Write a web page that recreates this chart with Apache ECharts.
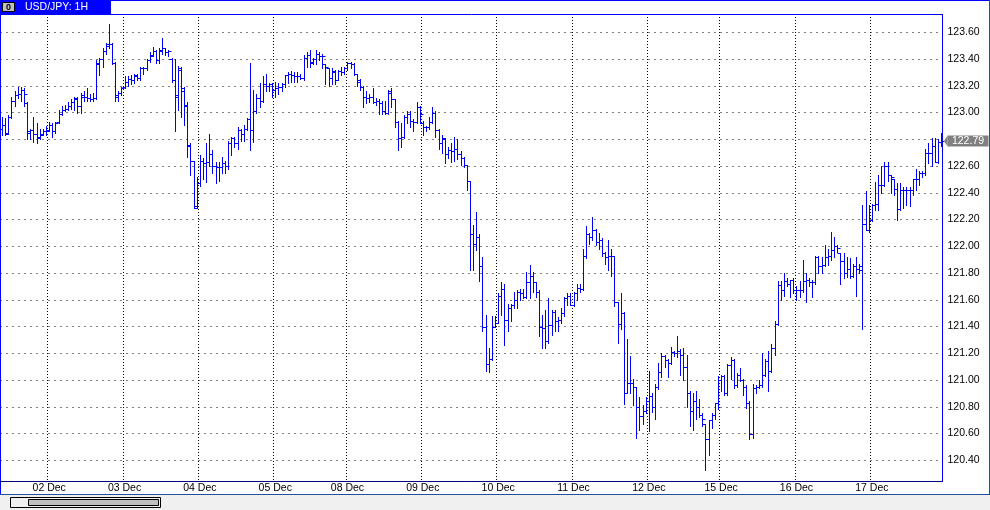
<!DOCTYPE html>
<html><head><meta charset="utf-8">
<script src="https://cdn.jsdelivr.net/npm/echarts/dist/echarts.min.js"></script>
<style>html,body{margin:0;padding:0;background:#fff;}#c{width:990px;height:510px;}</style>
</head><body><div id="c"></div>
<script>
// ---- data ----
const title = 'USD/JPY: 1H';
const dayLabels = ['01 Dec','02 Dec','03 Dec','04 Dec','05 Dec','08 Dec','09 Dec','10 Dec','11 Dec','12 Dec','15 Dec','16 Dec','17 Dec'];
const dayBarCounts = [15,24,24,24,23,24,24,24,24,23,24,24,23];
const firstHour = 9;
const opens = [
/*01*/122.88,122.91,122.85,122.97,123.09,123.13,123.14,123.17,123.07,122.86,122.87,122.84,122.81,122.84,122.86,
/*02*/122.87,122.91,122.86,122.93,122.99,123.02,123.03,123.05,123.08,123.10,123.05,123.12,123.12,123.11,123.10,123.11,123.36,123.40,123.46,123.50,123.51,123.37,123.13,123.15,
/*03*/123.19,123.23,123.25,123.24,123.27,123.26,123.33,123.33,123.39,123.42,123.46,123.39,123.46,123.48,123.45,123.40,123.24,123.13,123.32,123.18,123.06,122.76,122.64,122.30,
/*04*/122.47,122.64,122.62,122.63,122.69,122.60,122.59,122.59,122.62,122.60,122.77,122.81,122.77,122.87,122.84,122.88,122.95,122.87,123.01,123.11,123.09,123.21,123.20,123.21,
/*05*/123.17,123.18,123.19,123.21,123.28,123.29,123.28,123.27,123.27,123.26,123.41,123.43,123.38,123.40,123.44,123.42,123.36,123.33,123.26,123.30,123.24,123.31,123.30,
/*08*/123.33,123.37,123.36,123.29,123.23,123.19,123.12,123.11,123.12,123.08,123.09,123.07,123.01,123.00,123.15,123.10,122.93,122.81,122.82,122.97,122.99,122.94,122.93,123.04,
/*09*/122.92,122.89,122.89,122.93,123.00,122.87,122.77,122.80,122.69,122.72,122.71,122.73,122.69,122.66,122.61,122.49,122.09,122.02,122.07,121.85,121.40,121.12,121.16,121.40,
/*10*/121.43,121.63,121.68,121.45,121.54,121.56,121.60,121.66,121.65,121.62,121.73,121.78,121.73,121.66,121.40,121.39,121.29,121.41,121.51,121.44,121.45,121.50,121.61,121.63,
/*11*/121.56,121.65,121.69,121.68,121.93,122.09,122.07,122.12,122.03,122.05,121.95,121.92,121.93,121.93,121.58,121.42,121.50,120.90,120.98,120.98,120.95,120.80,120.73,120.77,
/*12*/120.84,120.88,120.80,120.95,121.06,121.18,121.15,121.13,121.21,121.20,121.22,121.19,121.10,120.90,120.77,120.84,120.80,120.74,120.67,120.56,120.70,120.74,120.83,
/*15*/121.00,121.03,120.90,121.11,121.15,120.96,121.04,121.00,120.95,120.83,120.60,120.94,120.95,120.96,121.04,121.14,121.07,121.24,121.42,121.71,121.67,121.74,121.72,121.75,
/*16*/121.67,121.67,121.67,121.74,121.75,121.73,121.73,121.92,121.85,121.86,121.92,121.93,121.97,122.00,121.95,121.89,121.80,121.83,121.78,121.85,121.83,121.82,122.17,122.12,
/*17*/122.20,122.31,122.32,122.46,122.46,122.60,122.53,122.50,122.43,122.28,122.42,122.42,122.42,122.42,122.50,122.50,122.55,122.55,122.70,122.70,122.75,122.63,122.78
];
const highs = [
/*01*/122.97,122.96,122.98,123.12,123.16,123.19,123.19,123.18,123.08,122.88,122.97,122.92,122.88,122.88,122.90,
/*02*/122.93,122.92,122.93,123.02,123.05,123.06,123.08,123.10,123.12,123.12,123.15,123.16,123.18,123.14,123.15,123.39,123.41,123.48,123.52,123.66,123.52,123.38,123.16,123.19,
/*03*/123.27,123.27,123.28,123.29,123.29,123.34,123.34,123.40,123.45,123.49,123.47,123.48,123.56,123.48,123.47,123.41,123.40,123.35,123.34,123.19,123.08,122.77,122.64,122.52,
/*04*/122.68,122.66,122.77,122.84,122.72,122.63,122.63,122.67,122.64,122.79,122.82,122.82,122.89,122.88,122.91,122.96,123.37,123.17,123.14,123.22,123.27,123.29,123.22,123.22,
/*05*/123.23,123.22,123.22,123.28,123.30,123.31,123.30,123.30,123.29,123.43,123.45,123.47,123.41,123.47,123.45,123.44,123.36,123.33,123.33,123.32,123.32,123.34,123.34,
/*08*/123.38,123.38,123.37,123.29,123.25,123.20,123.16,123.14,123.18,123.11,123.10,123.09,123.09,123.17,123.18,123.10,122.94,122.92,122.98,123.01,123.01,122.95,123.08,123.05,
/*09*/122.94,122.90,122.97,123.04,123.01,122.88,122.83,122.81,122.74,122.77,122.82,122.80,122.71,122.67,122.61,122.49,122.16,122.26,122.09,121.92,121.49,121.24,121.48,121.48,
/*10*/121.65,121.73,121.72,121.57,121.57,121.66,121.67,121.68,121.68,121.81,121.86,121.81,121.73,121.67,121.49,121.52,121.61,121.52,121.52,121.47,121.54,121.62,121.65,121.65,
/*11*/121.66,121.72,121.72,121.98,122.15,122.10,122.22,122.13,122.10,122.06,121.96,122.05,121.98,121.93,121.58,121.65,121.51,121.31,121.18,121.01,120.95,120.87,120.81,120.87,
/*12*/121.07,120.90,120.97,121.13,121.20,121.19,121.16,121.25,121.22,121.33,121.23,121.24,121.19,120.92,120.90,120.92,120.86,120.75,120.67,120.70,120.75,120.83,121.03,
/*15*/121.04,121.04,121.12,121.17,121.16,121.05,121.09,121.01,120.96,120.84,120.97,120.96,121.00,121.20,121.16,121.22,121.27,121.44,121.74,121.74,121.80,121.76,121.75,121.76,
/*16*/121.70,121.74,121.90,121.80,121.76,121.75,121.93,121.93,121.92,122.01,121.98,122.11,122.07,122.01,121.95,121.95,121.92,121.91,121.87,121.92,121.87,122.31,122.41,122.31,
/*17*/122.32,122.48,122.53,122.60,122.63,122.63,122.53,122.50,122.47,122.47,122.44,122.44,122.44,122.50,122.58,122.56,122.56,122.73,122.77,122.81,122.81,122.80,122.85
];
const lows = [
/*01*/122.83,122.83,122.84,122.96,123.05,123.11,123.09,123.05,122.80,122.80,122.78,122.77,122.80,122.83,122.83,
/*02*/122.86,122.82,122.85,122.92,122.98,123.01,123.02,123.03,123.02,123.00,123.00,123.09,123.09,123.09,123.09,123.10,123.28,123.34,123.44,123.48,123.36,123.09,123.09,123.13,
/*03*/123.18,123.20,123.21,123.22,123.24,123.24,123.29,123.32,123.38,123.42,123.37,123.37,123.44,123.43,123.42,123.23,122.86,123.02,122.97,122.91,122.67,122.53,122.29,122.29,
/*04*/122.45,122.50,122.48,122.60,122.55,122.47,122.49,122.55,122.55,122.58,122.68,122.74,122.73,122.79,122.79,122.87,122.72,122.78,123.00,123.04,123.08,123.16,123.16,123.12,
/*05*/123.12,123.14,123.16,123.19,123.22,123.23,123.23,123.23,123.25,123.24,123.34,123.34,123.36,123.36,123.39,123.33,123.21,123.20,123.21,123.21,123.24,123.28,123.29,
/*08*/123.32,123.33,123.28,123.20,123.17,123.04,123.07,123.08,123.07,123.06,122.99,122.99,122.99,122.99,123.04,122.89,122.72,122.74,122.81,122.92,122.89,122.86,122.92,122.92,
/*09*/122.83,122.86,122.88,122.92,122.82,122.73,122.70,122.62,122.66,122.63,122.64,122.65,122.61,122.59,122.42,121.82,121.82,121.97,121.74,121.37,121.07,121.06,121.15,121.40,
/*10*/121.43,121.49,121.26,121.37,121.44,121.54,121.54,121.60,121.61,121.61,121.61,121.66,121.62,121.33,121.24,121.24,121.28,121.34,121.37,121.37,121.43,121.48,121.56,121.56,
/*11*/121.55,121.60,121.66,121.67,121.91,122.02,122.05,122.01,121.98,121.93,121.87,121.82,121.78,121.55,121.28,121.38,120.82,120.90,120.90,120.81,120.57,120.63,120.67,120.75,
/*12*/120.62,120.76,120.71,120.93,121.02,121.10,121.02,121.12,121.18,121.17,121.04,121.00,120.80,120.66,120.63,120.71,120.72,120.66,120.33,120.44,120.64,120.71,120.78,
/*15*/120.92,120.89,120.89,121.01,120.94,120.95,120.99,120.89,120.79,120.56,120.57,120.90,120.94,120.95,121.03,120.92,121.06,121.19,121.41,121.60,121.63,121.70,121.62,121.65,
/*16*/121.60,121.62,121.66,121.58,121.70,121.62,121.72,121.80,121.80,121.85,121.86,121.90,121.92,121.96,121.72,121.76,121.77,121.76,121.77,121.63,121.80,121.38,122.12,122.11,
/*17*/122.19,122.27,122.27,122.40,122.45,122.49,122.40,122.38,122.20,122.27,122.29,122.31,122.30,122.38,122.42,122.46,122.52,122.53,122.62,122.60,122.63,122.62,122.75
];
const closes = [
/*01*/122.91,122.84,122.97,123.09,123.13,123.14,123.17,123.14,122.85,122.87,122.84,122.82,122.83,122.86,122.86,
/*02*/122.91,122.86,122.92,122.99,123.02,123.03,123.05,123.08,123.11,123.05,123.13,123.12,123.11,123.10,123.11,123.37,123.40,123.46,123.51,123.51,123.37,123.12,123.15,123.18,
/*03*/123.23,123.25,123.24,123.28,123.26,123.33,123.33,123.39,123.43,123.46,123.39,123.47,123.48,123.45,123.46,123.24,123.12,123.33,123.16,123.05,122.75,122.64,122.29,122.47,
/*04*/122.64,122.62,122.63,122.69,122.60,122.59,122.59,122.62,122.60,122.77,122.81,122.77,122.87,122.84,122.88,122.95,122.87,123.01,123.11,123.09,123.21,123.20,123.21,123.17,
/*05*/123.18,123.19,123.21,123.28,123.29,123.28,123.27,123.27,123.26,123.41,123.43,123.37,123.40,123.44,123.42,123.42,123.34,123.26,123.31,123.24,123.31,123.30,123.33,
/*08*/123.37,123.36,123.29,123.24,123.19,123.12,123.11,123.12,123.08,123.09,123.07,123.01,123.00,123.16,123.10,122.93,122.81,122.82,122.97,122.99,122.94,122.93,123.04,122.99,
/*09*/122.89,122.89,122.93,123.00,122.87,122.77,122.81,122.69,122.72,122.71,122.73,122.69,122.66,122.61,122.49,122.09,122.02,122.07,121.85,121.40,121.12,121.16,121.40,121.43,
/*10*/121.63,121.68,121.45,121.54,121.56,121.60,121.66,121.65,121.62,121.73,121.78,121.73,121.66,121.40,121.39,121.29,121.41,121.51,121.44,121.45,121.50,121.61,121.63,121.56,
/*11*/121.65,121.69,121.68,121.93,122.09,122.07,122.12,122.03,122.05,121.95,121.92,121.93,121.93,121.58,121.42,121.50,120.90,120.98,120.98,120.95,120.80,120.73,120.77,120.84,
/*12*/120.88,120.80,120.95,121.06,121.18,121.15,121.13,121.21,121.20,121.22,121.19,121.10,120.90,120.77,120.84,120.80,120.74,120.71,120.56,120.70,120.74,120.83,121.00,
/*15*/121.03,120.90,121.11,121.15,120.96,121.04,121.00,120.95,120.83,120.60,120.94,120.95,120.96,121.04,121.14,121.07,121.24,121.42,121.71,121.67,121.74,121.72,121.75,121.67,
/*16*/121.67,121.67,121.74,121.75,121.73,121.73,121.92,121.85,121.86,121.92,121.93,121.97,122.00,121.99,121.89,121.80,121.83,121.78,121.85,121.83,121.85,122.17,122.12,122.20,
/*17*/122.31,122.32,122.46,122.46,122.60,122.53,122.52,122.43,122.28,122.42,122.42,122.42,122.42,122.50,122.50,122.55,122.55,122.70,122.70,122.75,122.63,122.78,122.79
];
const yGridValues = [120.40,120.60,120.80,121.00,121.20,121.40,121.60,121.80,122.00,122.20,122.40,122.60,122.80,123.00,123.20,123.40,123.60];
const yLabelValues = [120.40,120.60,120.80,121.00,121.20,121.40,121.60,121.80,122.00,122.20,122.40,122.60,123.00,123.20,123.40,123.60];
const lastPrice = 122.79;
const yMin = 120.245, yMax = 123.737;

// ---- build categories ----
const categories = [];
const dayStart = new Set();
dayLabels.forEach((d, di) => {
  if (di > 0) dayStart.add(categories.length);
  const h0 = di === 0 ? firstHour : 0;
  for (let h = 0; h < dayBarCounts[di]; h++) {
    categories.push(d + ' ' + String(h0 + h).padStart(2, '0') + ':00');
  }
});
const ohlc = opens.map((o, i) => [i, o, highs[i], lows[i], closes[i]]);

const BLUE = '#0000ff';
const FONT = '"Liberation Sans", Arial, sans-serif';
const chart = echarts.init(document.getElementById('c'), null, {renderer: 'canvas'});

const option = {
  animation: false,
  backgroundColor: '#ffffff',
  grid: {left: 0.5, top: 14, width: 942, height: 467, show: false},
  xAxis: {
    type: 'category', data: categories, boundaryGap: true,
    axisLine: {show: false}, axisTick: {show: false},
    axisLabel: {
      interval: (idx) => dayStart.has(idx),
      formatter: (v) => v.slice(0, 6),
      color: '#000', fontSize: 10.5, fontFamily: FONT, margin: 2
    },
    splitLine: {show: true, interval: (idx) => dayStart.has(idx),
      lineStyle: {color: '#000', width: 1, type: [1, 2]}}
  },
  yAxis: {
    type: 'value', position: 'right', min: yMin, max: yMax, scale: true,
    axisLine: {show: false},
    axisTick: {show: false, customValues: yGridValues},
    axisLabel: {customValues: yLabelValues, formatter: (v) => v.toFixed(2),
      color: '#000', fontSize: 10.5, fontFamily: FONT, margin: 5},
    splitLine: {show: true, lineStyle: {color: '#000', width: 1, type: [1, 5]}}
  },
  series: [{
    type: 'custom',
    data: ohlc,
    encode: {x: 0, y: [1, 2, 3, 4]},
    renderItem: function (params, api) {
      const i = api.value(0);
      const pO = api.coord([i, api.value(1)]);
      const pH = api.coord([i, api.value(2)]);
      const pL = api.coord([i, api.value(3)]);
      const pC = api.coord([i, api.value(4)]);
      const xc = Math.round(pO[0]) + 0.5;
      const yo = Math.round(pO[1]) + 0.5, yc = Math.round(pC[1]) + 0.5;
      const st = {stroke: BLUE, lineWidth: 1};
      return {type: 'group', children: [
        {type: 'line', shape: {x1: xc, y1: Math.round(pH[1]), x2: xc, y2: Math.round(pL[1]) + 1}, style: st},
        {type: 'line', shape: {x1: xc - 3, y1: yo, x2: xc, y2: yo}, style: st},
        {type: 'line', shape: {x1: xc, y1: yc, x2: xc + 3, y2: yc}, style: st}
      ]};
    }
  }],
  graphic: [
    // top strip
    {type: 'line', shape: {x1: 0, y1: 0.5, x2: 990, y2: 0.5}, style: {stroke: BLUE}, z: 10},
    {type: 'rect', shape: {x: 0, y: 0, width: 111, height: 14}, style: {fill: BLUE}, z: 10},
    {type: 'rect', shape: {x: 2.5, y: 2.5, width: 12, height: 9}, style: {fill: '#c0c0c0', stroke: '#000'}, z: 11},
    {type: 'text', style: {x: 8.5, y: 7.5, text: '0', fill: '#000', font: 'bold 9px ' + FONT, align: 'center', verticalAlign: 'middle'}, z: 12},
    {type: 'text', style: {x: 25, y: 7.5, text: title, fill: '#fff', font: '10.5px ' + FONT, verticalAlign: 'middle'}, z: 12},
    // plot frame
    {type: 'rect', shape: {x: 0.5, y: 14.5, width: 942, height: 467}, style: {fill: null, stroke: BLUE, lineWidth: 1}, z: 10},
    {type: 'line', shape: {x1: 0, y1: 481.5, x2: 943, y2: 481.5}, style: {stroke: '#000080'}, z: 11},
    {type: 'line', shape: {x1: 0.5, y1: 0, x2: 0.5, y2: 495}, style: {stroke: BLUE}, z: 10},
    // window frame
    {type: 'line', shape: {x1: 989.5, y1: 0, x2: 989.5, y2: 495}, style: {stroke: '#1f4f9f'}, z: 10},
    {type: 'rect', shape: {x: 0, y: 495, width: 990, height: 15}, style: {fill: '#f0f0f0'}, z: 10},
    {type: 'line', shape: {x1: 0, y1: 494.5, x2: 990, y2: 494.5}, style: {stroke: '#1f4f9f'}, z: 11},
    // scrollbar
    {type: 'rect', shape: {x: 10.5, y: 497.5, width: 150, height: 10}, style: {fill: '#f0f0f0', stroke: '#000'}, z: 11},
    {type: 'rect', shape: {x: 28.5, y: 499.5, width: 130, height: 6}, style: {fill: '#c0c0c0', stroke: '#000'}, z: 12}
  ]
};
chart.setOption(option);

// current-price marker placed through the chart's own y scale
const pLast = chart.convertToPixel({gridIndex: 0}, [categories.length - 1, lastPrice]);
const py = Math.round(pLast[1]);
const bx = 947.5;
chart.setOption({graphic: option.graphic.concat([
  {type: 'polygon', shape: {points: [[bx - 3.5, py], [bx, py - 5.5], [bx, py + 5.5]]}, style: {fill: '#808080'}, z: 12},
  {type: 'rect', shape: {x: bx, y: py - 5.5, width: 41, height: 11}, style: {fill: '#808080'}, z: 12},
  {type: 'text', style: {x: bx + 20.5, y: py, text: lastPrice.toFixed(2), fill: '#fff', font: '10.5px ' + FONT, align: 'center', verticalAlign: 'middle'}, z: 13}
])});
</script></body></html>
